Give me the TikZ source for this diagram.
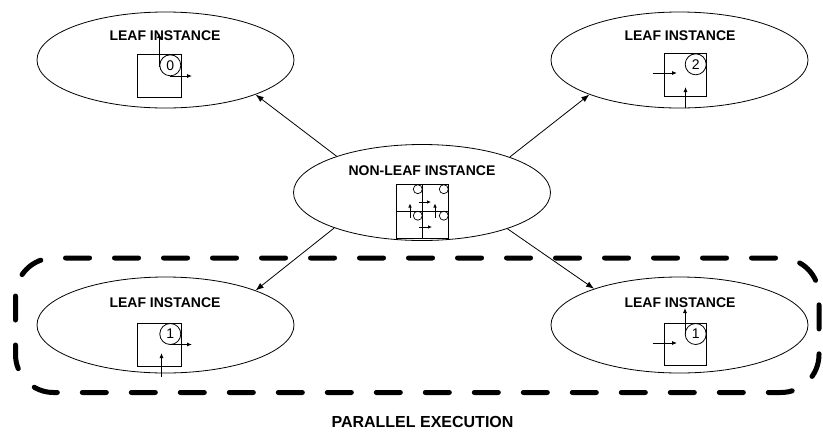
\documentclass[tikz,border=0pt]{standalone}
\usepackage{fontspec}
\setmainfont{Liberation Sans}[BoldFont={Liberation Sans Bold}]
\newfontfamily\lblfont{Liberation Sans Bold}
\usetikzlibrary{shapes.geometric,arrows.meta}
\begin{document}
\begin{tikzpicture}[x=1pt,y=-1pt,
 ell/.style={draw, ellipse, line width=0.8pt, minimum width=257pt, minimum height=96pt, inner sep=0pt},
 lbl/.style={font=\lblfont\fontsize{14}{16}\selectfont, inner sep=0pt},
 conn/.style={-{Latex[length=8pt,width=6pt]}, line width=0.8pt},
 smallarr/.style={-{Latex[length=5pt,width=4pt]}, line width=0.8pt},
 tinyarr/.style={-{Latex[length=4pt,width=3.5pt]}, line width=0.7pt},
 glyphbox/.style={draw, line width=0.8pt},
 num/.style={draw, circle, minimum size=21pt, inner sep=0pt, line width=0.8pt, font=\fontsize{14}{16}\selectfont},
 dot/.style={draw, circle, minimum size=9pt, inner sep=0pt, line width=0.7pt},
]
\useasboundingbox (0,0) rectangle (823,432);

% ellipses
\node[ell] (tl) at (165.5,60) {};
\node[ell] (tr) at (679.5,60) {};
\node[ell] (c)  at (422,192.5) {};
\node[ell] (bl) at (165.5,325) {};
\node[ell] (br) at (679.5,325) {};

% labels
\node[lbl] (tlt) at (165,36) {LEAF INSTANCE};
\node[lbl] (trt) at (680,36) {LEAF INSTANCE};
\node[lbl] (ct)  at (422,170.5) {NON-LEAF INSTANCE};
\node[lbl] (blt) at (165,303) {LEAF INSTANCE};
\node[lbl] (brt) at (680,303) {LEAF INSTANCE};

% connectors
\draw[conn] (c.157.8) -- (tl.339.3);
\draw[conn] (c.22.2) -- (tr.201.6);
\draw[conn] (c.202.3) -- (bl.21.6);
\draw[conn] (c.337.7) -- (br.157.6);

% top-left glyph
\draw[glyphbox] (137.5,54.5) rectangle (181,97);
\node[num] (n0) at (170.3,65.3) {0};
\draw[smallarr] (159,67) -- (159,33);
\draw[smallarr] (170,76) -- (192,76);

% top-right glyph
\draw[glyphbox] (664,53.5) rectangle (706.5,96);
\node[num] (n2) at (695.7,64.3) {2};
\draw[smallarr] (652.5,73) -- (677,73);
\draw[smallarr] (685.5,108) -- (685.5,87);

% bottom-left glyph
\draw[glyphbox] (137.5,323.5) rectangle (181,366);
\node[num] (n1a) at (170.3,334) {1};
\draw[smallarr] (169.5,344.5) -- (192,344.5);
\draw[smallarr] (161.5,377) -- (161.5,353);

% bottom-right glyph
\draw[glyphbox] (664,323) rectangle (706.5,365.5);
\node[num] (n1b) at (695.7,334) {1};
\draw[smallarr] (685,334) -- (685,308);
\draw[smallarr] (652.5,343) -- (677,343);

% center glyph
\draw[glyphbox] (396,184.5) rectangle (448.5,238);
\draw[line width=0.8pt] (422.5,184.5) -- (422.5,238);
\draw[line width=0.8pt] (396,211) -- (448.5,211);
\node[dot] (d1) at (417.8,189.2) {};
\node[dot] (d2) at (443.8,189.2) {};
\node[dot] (d3) at (417.8,215.7) {};
\node[dot] (d4) at (443.8,215.7) {};
\draw[tinyarr] (419,202) -- (431,202);
\draw[tinyarr] (419,227) -- (432,227);
\draw[tinyarr] (410,218) -- (410,203.5);
\draw[tinyarr] (435,218) -- (435,203.5);

% parallel execution frame
\draw[line width=5pt, dash pattern=on 24pt off 25pt, line cap=round, rounded corners=38pt] (15.5,258) rectangle (819,392.5);
\node[font=\lblfont\fontsize{16}{18}\selectfont, inner sep=0pt] (pe) at (422.5,422) {PARALLEL EXECUTION};
\end{tikzpicture}
\end{document}
